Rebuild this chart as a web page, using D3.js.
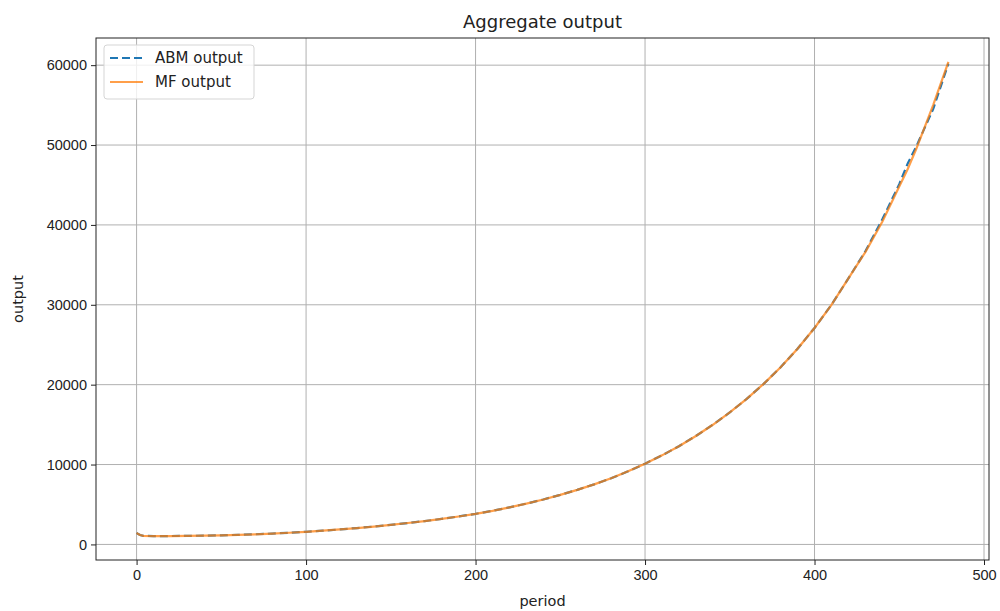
<html>
  <head>
    <title>Aggregate output</title>
    <script src="https://d3js.org/d3.v7.min.js"></script>
    <style>
      body { margin: 0; background: #fff; font-family: "DejaVu Sans", sans-serif; }
      .tick text { font-size: 14.5px; fill: #222; }
    </style>
  </head>
  <body>
    <svg width="1000" height="611"></svg>
    <script>
      // data
      var periods = [0, 1, 2, 4, 10, 20, 30, 40, 50, 60, 70, 80, 90, 100, 110, 120, 130, 140, 150,
        160, 170, 180, 190, 200, 210, 220, 230, 240, 250, 260, 270, 280, 290, 300, 310, 320,
        330, 340, 350, 360, 370, 380, 390, 400, 410, 420, 430, 440, 450, 455, 460, 470, 479];
      var abmOutput = [1450, 1300, 1180, 1080, 1050, 1050, 1070, 1100, 1140, 1200, 1270, 1360, 1460,
        1580, 1720, 1880, 2050, 2240, 2450, 2680, 2920, 3200, 3500, 3830, 4210, 4640, 5110,
        5630, 6200, 6830, 7520, 8290, 9150, 10100, 11150, 12300, 13580, 14980, 16520, 18220,
        20100, 22180, 24500, 27100, 30000, 33300, 36700, 40700, 45100, 47700, 49800, 54500, 60200];
      var mfOutput = [1450, 1300, 1180, 1080, 1050, 1050, 1070, 1100, 1140, 1200, 1270, 1360, 1460,
        1580, 1720, 1880, 2050, 2240, 2450, 2680, 2920, 3200, 3500, 3830, 4210, 4640, 5110,
        5630, 6200, 6830, 7520, 8290, 9150, 10100, 11150, 12300, 13580, 14980, 16520, 18220,
        20100, 22180, 24500, 27100, 30000, 33300, 36600, 40400, 44800, 47000, 49500, 55000, 60400];
      var xTicks = [0, 100, 200, 300, 400, 500];
      var yTicks = [0, 10000, 20000, 30000, 40000, 50000, 60000];

      var svg = d3.select("svg");
      var pLeft = 96, pRight = 989, pTop = 38, pBottom = 560;

      var x = d3.scaleLinear().domain([-23.95, 502.95]).range([pLeft, pRight]);
      var y = d3.scaleLinear().domain([-1950, 63400]).range([pBottom, pTop]);

      // grid
      svg.append("g").selectAll("line").data(xTicks).enter().append("line")
        .attr("x1", d => x(d)).attr("x2", d => x(d))
        .attr("y1", pTop).attr("y2", pBottom)
        .attr("stroke", "#b0b0b0").attr("stroke-width", 1);
      svg.append("g").selectAll("line").data(yTicks).enter().append("line")
        .attr("x1", pLeft).attr("x2", pRight)
        .attr("y1", d => y(d)).attr("y2", d => y(d))
        .attr("stroke", "#b0b0b0").attr("stroke-width", 1);

      var line = function(vals){
        return d3.line().x((d, i) => x(periods[i])).y(d => y(d))(vals);
      };

      svg.append("path").attr("d", line(abmOutput))
        .attr("fill", "none").attr("stroke", "#1f77b4").attr("stroke-width", 2.2)
        .attr("stroke-dasharray", "8,4");
      svg.append("path").attr("d", line(mfOutput))
        .attr("fill", "none").attr("stroke", "#ff7f0e").attr("stroke-width", 2.2)
        .attr("stroke-opacity", 0.75);

      // axes
      var xAxis = svg.append("g").attr("transform", "translate(0," + pBottom + ")")
        .call(d3.axisBottom(x).tickValues(xTicks).tickSize(5).tickPadding(5));
      var yAxis = svg.append("g").attr("transform", "translate(" + pLeft + ",0)")
        .call(d3.axisLeft(y).tickValues(yTicks).tickSize(5).tickPadding(4).tickFormat(d3.format("d")));
      [xAxis, yAxis].forEach(function(a){
        a.select(".domain").remove();
        a.selectAll(".tick line").attr("stroke", "#222");
      });

      svg.append("rect").attr("x", pLeft).attr("y", pTop)
        .attr("width", pRight - pLeft).attr("height", pBottom - pTop)
        .attr("fill", "none").attr("stroke", "#222").attr("stroke-width", 1);

      // texts
      svg.append("text").attr("x", (pLeft + pRight) / 2).attr("y", 28)
        .attr("text-anchor", "middle").attr("font-size", 18).attr("fill", "#222")
        .text("Aggregate output");
      svg.append("text").attr("x", (pLeft + pRight) / 2).attr("y", 606)
        .attr("text-anchor", "middle").attr("font-size", 14.5).attr("fill", "#222")
        .text("period");
      svg.append("text").attr("transform", "translate(23," + ((pTop + pBottom) / 2) + ") rotate(-90)")
        .attr("text-anchor", "middle").attr("font-size", 14.5).attr("fill", "#222")
        .text("output");

      // legend
      var lg = svg.append("g");
      lg.append("rect").attr("x", 104).attr("y", 45).attr("width", 150).attr("height", 54)
        .attr("rx", 3).attr("fill", "#fff").attr("fill-opacity", 0.8)
        .attr("stroke", "#d5d5d5");
      var items = [["ABM output", "#1f77b4", "8,4", 1], ["MF output", "#ff7f0e", null, 0.75]];
      items.forEach(function(it, i){
        var yy = 58 + i * 24;
        lg.append("line").attr("x1", 110).attr("x2", 143).attr("y1", yy).attr("y2", yy)
          .attr("stroke", it[1]).attr("stroke-width", 2.2).attr("stroke-dasharray", it[2])
          .attr("stroke-opacity", it[3]);
        lg.append("text").attr("x", 155).attr("y", yy + 5).attr("font-size", 15)
          .attr("fill", "#222").text(it[0]);
      });
    </script>
  </body>
</html>
